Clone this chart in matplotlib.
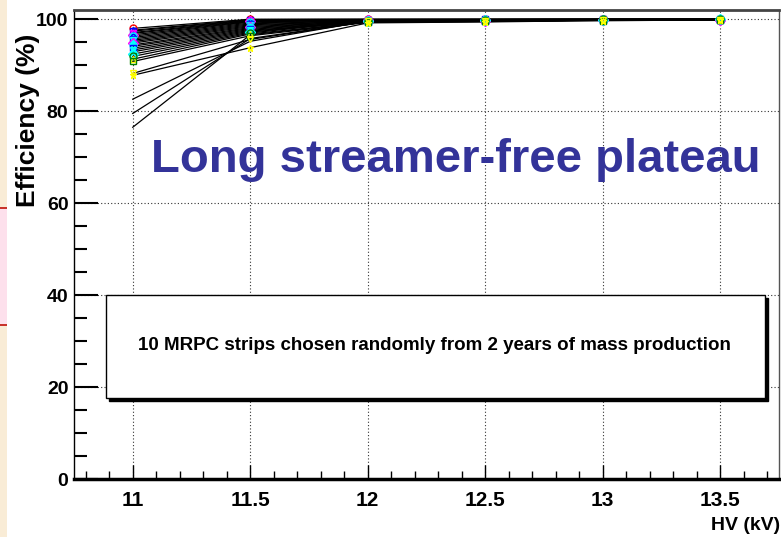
import numpy as np
import matplotlib.pyplot as plt
import matplotlib.patches as mpatches
from matplotlib.ticker import MultipleLocator

# HV points (kV)
hv = [11.0, 11.5, 12.0, 12.5, 13.0, 13.5]

# efficiency (%) of every channel at each HV point
eff_11 = [98.0, 97.6, 97.4, 97.1, 96.9, 96.6, 96.3, 96.0, 95.7, 95.4, 95.1, 94.8, 94.4,
          94.1, 93.7, 93.3, 92.9, 92.4, 91.9, 91.3, 90.8, 88.2, 87.8, 82.6, 79.5, 76.5]
eff_11p5 = [100.0, 99.9, 99.8, 99.7, 99.6, 99.5, 99.4, 99.2, 99.0, 98.8, 98.6, 98.4, 98.2,
            98.0, 97.8, 97.6, 97.4, 97.2, 97.0, 96.8, 96.4, 95.6, 93.8, 95.2, 95.8, 96.6]
eff_12 = [100.0, 100.0, 99.9, 99.9, 99.8, 99.8, 99.8, 99.7, 99.7, 99.6, 99.6, 99.5, 99.5,
          99.4, 99.4, 99.3, 99.5, 99.6, 99.7, 99.4, 99.3, 99.5, 99.2, 99.6, 99.5, 99.4]
eff_12p5 = [100.0, 100.0, 100.0, 99.9, 99.9, 99.8, 99.9, 99.8, 99.7, 99.8, 99.7, 99.6, 99.8,
            99.6, 99.5, 99.7, 99.6, 99.8, 99.9, 99.6, 99.5, 99.7, 99.4, 99.8, 99.7, 99.6]
eff_13 = [100.0, 100.0, 100.0, 100.0, 99.9, 99.9, 100.0, 99.9, 99.8, 99.9, 99.9, 99.8, 99.9,
          99.8, 99.8, 99.9, 99.8, 99.9, 100.0, 99.8, 99.7, 99.9, 99.7, 99.9, 99.8, 99.8]
eff_13p5 = [100.0, 100.0, 100.0, 100.0, 100.0, 99.9, 100.0, 99.9, 99.9, 100.0, 99.9, 99.9, 100.0,
            99.8, 99.9, 99.9, 99.8, 100.0, 100.0, 99.9, 99.8, 99.9, 99.8, 99.9, 99.9, 99.8]

x_ticks = [11, 11.5, 12, 12.5, 13, 13.5]
x_ticklabels = ['11', '11.5', '12', '12.5', '13', '13.5']
y_ticks = [0, 20, 40, 60, 80, 100]

# marker colours (ROOT palette) and styles
colors = ['red', 'blue', 'blue', 'magenta', 'blue', 'magenta', 'cyan', 'cyan', 'blue', 'cyan',
          'cyan', 'magenta', 'cyan', 'cyan', 'blue', 'cyan', 'cyan', 'cyan', 'green', 'yellow',
          'green', 'yellow', 'yellow', 'none', 'none', 'none']
markers = ['o', '^', 's', 'v', '*', 'D']

font = ['Liberation Sans', 'DejaVu Sans']

fig = plt.figure(figsize=(7.81, 5.37), dpi=100)

# slide background strip on the left
fig.patches.append(mpatches.Rectangle((0, 0), 7 / 781, 1, transform=fig.transFigure,
                                      facecolor='#f9ecd6', edgecolor='none'))
fig.patches.append(mpatches.Rectangle((0, 1 - 325 / 537), 7 / 781, 117 / 537, transform=fig.transFigure,
                                      facecolor='#fde0ec', edgecolor='none'))
for yy in [1 - 208 / 537, 1 - 325 / 537]:
    fig.patches.append(mpatches.Rectangle((0, yy - 1 / 537), 7 / 781, 2 / 537, transform=fig.transFigure,
                                          facecolor='#c8332b', edgecolor='none'))

ax = fig.add_axes([74 / 781, 1 - 479 / 537, 705 / 781, 469 / 537])

vals = np.array([eff_11, eff_11p5, eff_12, eff_12p5, eff_13, eff_13p5])
for i in range(vals.shape[1]):
    ax.plot(hv, vals[:, i], color='black', lw=0.9, zorder=2)
    ax.plot(hv, vals[:, i], ls='none', marker=markers[i % len(markers)], ms=5,
            mfc='none', mec=colors[i], mew=1.0, zorder=3)

ax.set_xlim(10.75, 13.75)
ax.set_ylim(0, 102)
ax.set_xticks(x_ticks)
ax.set_xticklabels(x_ticklabels)
ax.set_yticks(y_ticks)
ax.xaxis.set_minor_locator(MultipleLocator(0.1))
ax.yaxis.set_minor_locator(MultipleLocator(5))

ax.grid(True, which='major', ls=(0, (1, 2)), color='#333333', lw=0.8, zorder=1)
ax.tick_params(axis='y', which='major', direction='in', length=17, width=1.5, pad=4)
ax.tick_params(axis='y', which='minor', direction='in', length=9, width=1.5)
ax.tick_params(axis='x', which='major', direction='in', length=10, width=1.0, pad=9)
ax.tick_params(axis='x', which='minor', direction='in', length=6, width=1.0)
for lab in ax.get_yticklabels():
    lab.set_family(font)
    lab.set_fontweight('bold')
    lab.set_fontsize(14)
for lab in ax.get_xticklabels():
    lab.set_family(font)
    lab.set_fontweight('bold')
    lab.set_fontsize(15)

ax.spines['bottom'].set_linewidth(2.5)
ax.spines['left'].set_linewidth(1.0)
ax.spines['top'].set_linewidth(2.0)
ax.spines['top'].set_color('#444444')
ax.spines['right'].set_linewidth(1.0)
ax.spines['right'].set_color('#555555')

ax.text(0.542, 0.68, 'Long streamer-free plateau', transform=ax.transAxes, ha='center', va='center',
        fontsize=34, fontweight='bold', color='#333399', family=font, zorder=5)

# legend-like box with shadow
bx, by, bw, bh = 0.045, 0.173, 0.935, 0.219
ax.add_patch(mpatches.Rectangle((bx + 3 / 705, by - 3 / 469), bw, bh, transform=ax.transAxes,
                                facecolor='black', edgecolor='black', zorder=6))
ax.add_patch(mpatches.Rectangle((bx, by), bw, bh, transform=ax.transAxes,
                                facecolor='white', edgecolor='black', lw=1.0, zorder=7))
ax.text(0.511, 0.284, '10 MRPC strips chosen randomly from 2 years of mass production',
        transform=ax.transAxes, ha='center', va='center', fontsize=13.5, fontweight='bold',
        family=font, zorder=8)

fig.text(28 / 781, 1 - 120 / 537, 'Efficiency (%)', rotation=90, ha='center', va='center',
         fontsize=19, fontweight='bold', family=font)
fig.text(780 / 781, 1 - 526 / 537, 'HV (kV)', ha='right', va='center',
         fontsize=14, fontweight='bold', family=font)

fig.savefig('out.png', dpi=100)
